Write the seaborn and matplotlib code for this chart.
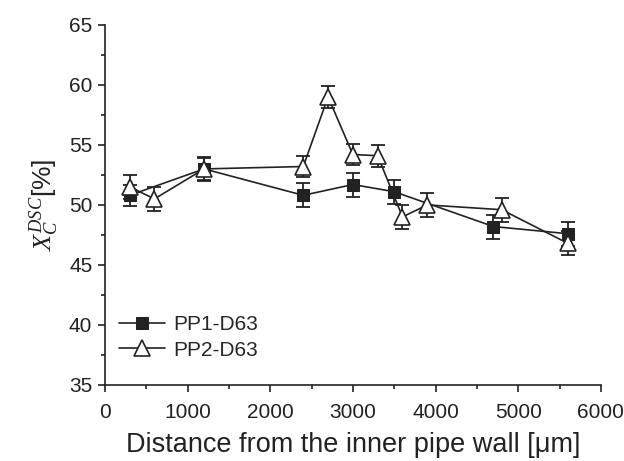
import matplotlib
matplotlib.use("Agg")
import matplotlib.pyplot as plt
import seaborn as sns
import pandas as pd
from matplotlib.ticker import MultipleLocator

pp1_x = [300, 1200, 2400, 3000, 3500, 4700, 5600]
pp1_y = [50.8, 53.0, 50.8, 51.7, 51.1, 48.2, 47.6]
pp1_err = [0.9, 0.9, 1.0, 1.0, 1.0, 1.0, 1.0]

pp2_x = [300, 600, 1200, 2400, 2700, 3000, 3300, 3600, 3900, 4800, 5600]
pp2_y = [51.5, 50.5, 53.0, 53.2, 59.0, 54.2, 54.1, 49.0, 50.0, 49.6, 46.8]
pp2_err = [1.0, 1.0, 1.0, 0.9, 0.9, 0.9, 0.9, 1.0, 1.0, 1.0, 1.0]

sns.set_style("ticks")
plt.rcParams['font.family'] = ['Liberation Sans', 'DejaVu Sans']
plt.rcParams['mathtext.fontset'] = 'custom'
plt.rcParams['mathtext.it'] = 'Liberation Serif:italic'
plt.rcParams['mathtext.rm'] = 'Liberation Serif'

fig = plt.figure(figsize=(6.24, 4.61), dpi=100)
ax = fig.add_axes([0.168, 0.165, 0.795, 0.781])

df1 = pd.DataFrame({"x": pp1_x, "y": pp1_y})
df2 = pd.DataFrame({"x": pp2_x, "y": pp2_y})

ax.errorbar(pp1_x, pp1_y, yerr=pp1_err, fmt='none', ecolor='#222222',
            elinewidth=1.3, capsize=5, capthick=1.3, zorder=2)
ax.errorbar(pp2_x, pp2_y, yerr=pp2_err, fmt='none', ecolor='#222222',
            elinewidth=1.3, capsize=5, capthick=1.3, zorder=2)

sns.lineplot(data=df1, x="x", y="y", sort=False, ax=ax, color='#222222',
             lw=1.2, marker='s', markersize=9, markerfacecolor='#222222',
             markeredgecolor='#222222', label='PP1-D63', zorder=3)
sns.lineplot(data=df2, x="x", y="y", sort=False, ax=ax, color='#222222',
             lw=1.2, marker='^', markersize=11, markerfacecolor='white',
             markeredgecolor='#222222', markeredgewidth=1.2, label='PP2-D63', zorder=4)

ax.set_xlim(0, 6000)
ax.set_ylim(35, 65)
ax.xaxis.set_major_locator(MultipleLocator(1000))
ax.xaxis.set_minor_locator(MultipleLocator(500))
ax.yaxis.set_major_locator(MultipleLocator(5))
ax.yaxis.set_minor_locator(MultipleLocator(2.5))
ax.tick_params(which='major', direction='out', length=5, width=1.2, labelsize=15,
               colors='#222222', pad=4)
ax.tick_params(axis='x', which='major', pad=8)
ax.tick_params(which='minor', direction='out', length=3, width=1.2, colors='#222222')
for s in ['left', 'bottom']:
    ax.spines[s].set_linewidth(1.2)
    ax.spines[s].set_color('#222222')
sns.despine(ax=ax)

ax.set_xlabel('Distance from the inner pipe wall [μm]', fontsize=19.5, labelpad=7, color='#222222')
ax.set_ylabel(r'$X_C^{DSC}$[%]', fontsize=19, labelpad=6, color='#222222')

ax.legend(loc='lower left', bbox_to_anchor=(0.0, 0.03), frameon=False, fontsize=15,
          handlelength=2.2, handletextpad=0.4, labelspacing=0.3, borderaxespad=0.3)

fig.savefig('out.png', dpi=100)
